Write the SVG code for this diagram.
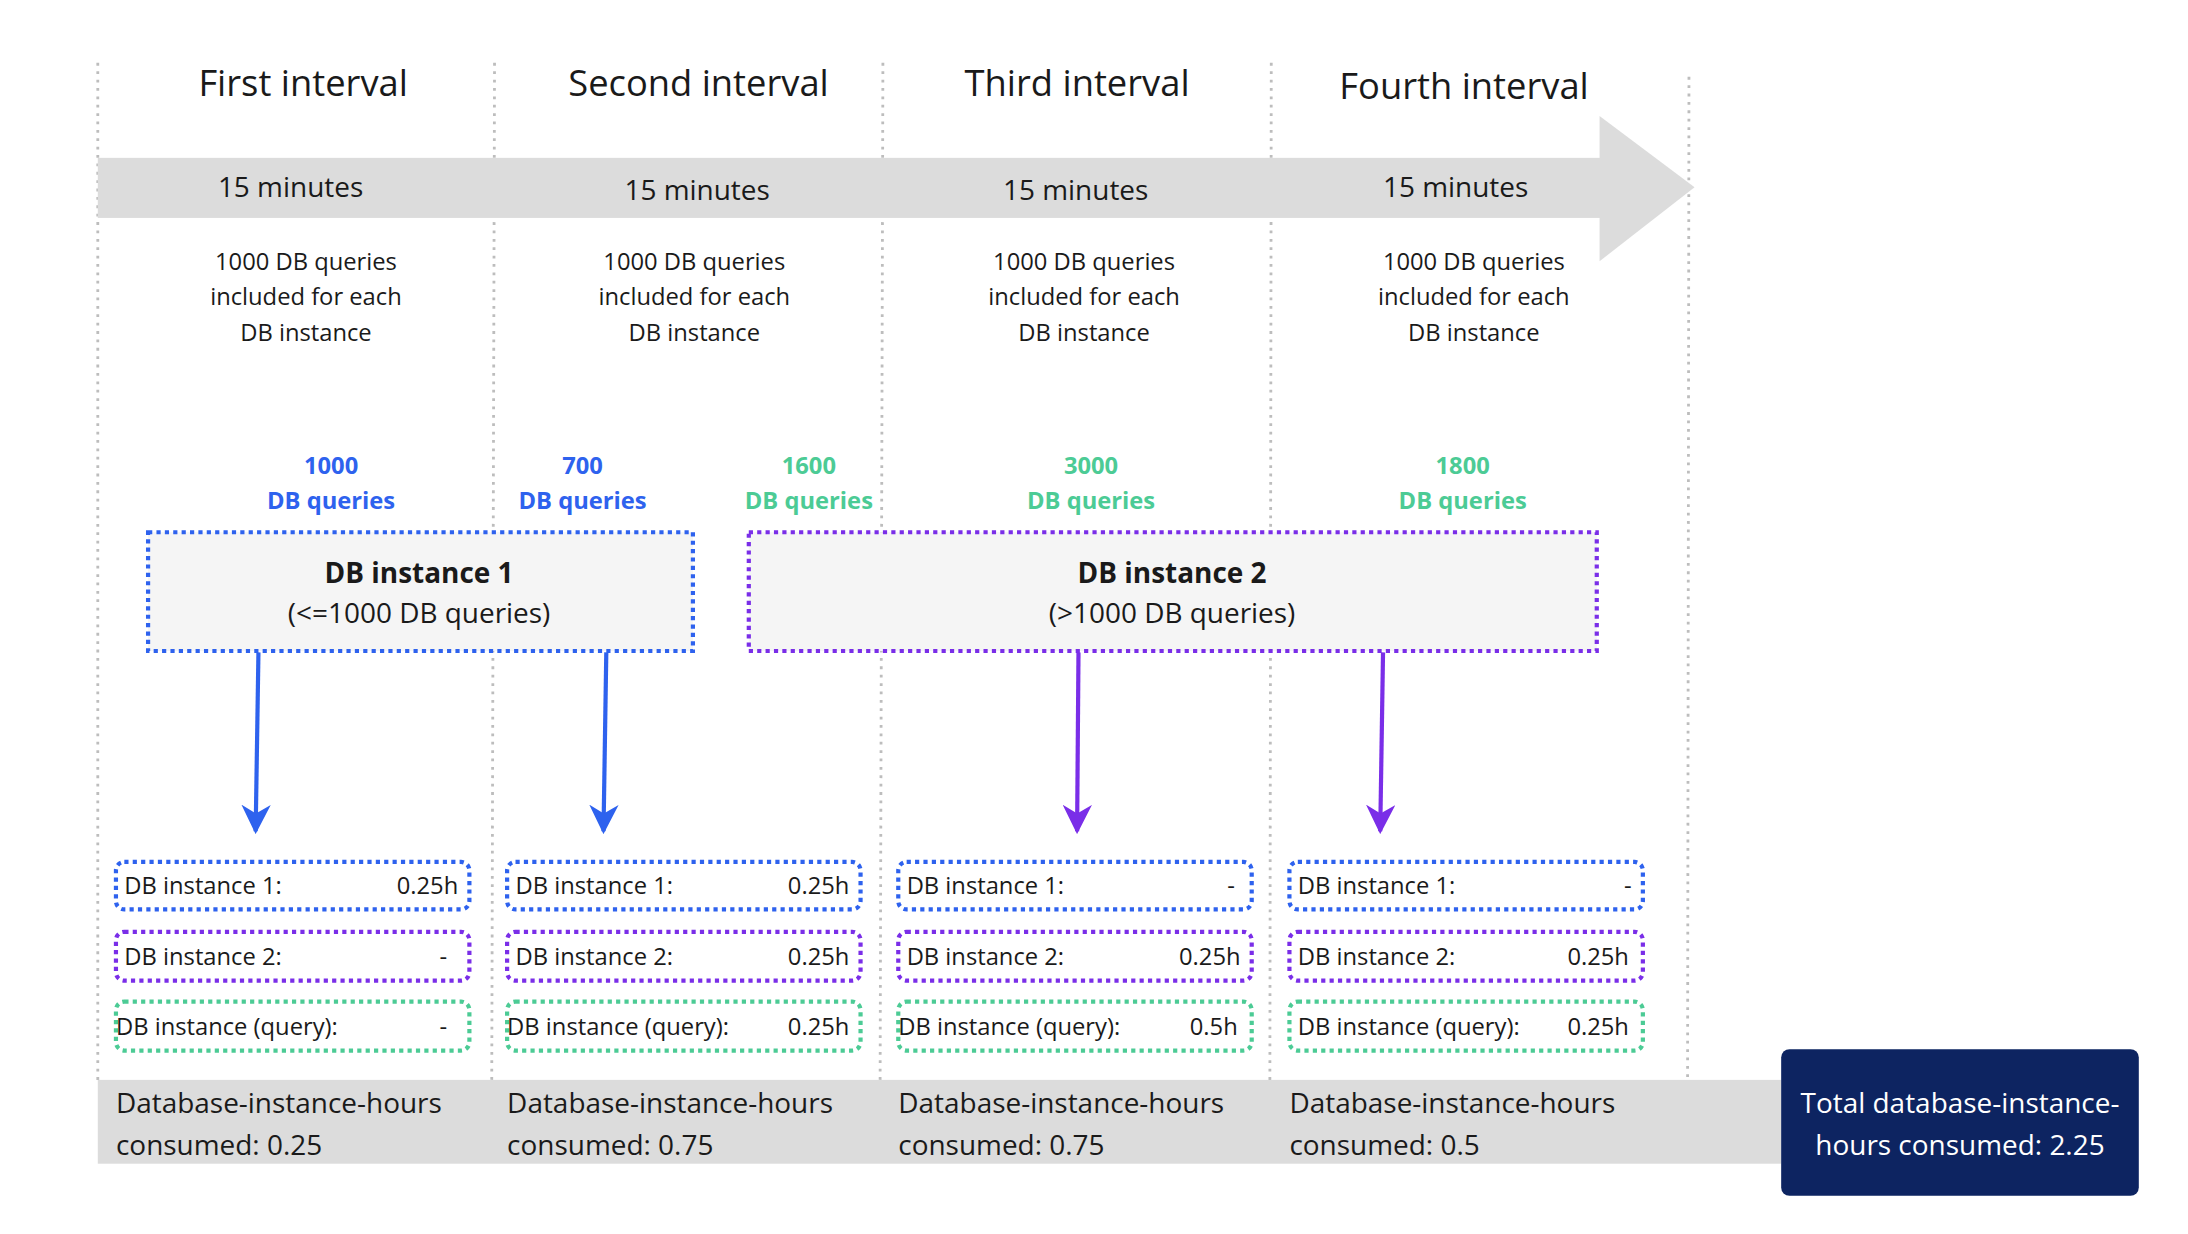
<svg xmlns="http://www.w3.org/2000/svg" width="2188" height="1234" viewBox="0 0 2188 1234">
<style>
text{font-family:"Open Sans","Noto Sans",sans-serif;fill:#1a1a1a}
.t{font-size:26px;text-anchor:middle}
.m{font-size:20px;text-anchor:middle}
.s{font-size:17px;text-anchor:middle}
.q{font-size:17px;font-weight:bold;text-anchor:middle}
.b{fill:#2e62ee}.g{fill:#4ccb95}
.sep{stroke:#bdbdbd;stroke-width:2;stroke-dasharray:2 4}
.bx{fill:#f5f5f5;stroke-width:3;stroke-dasharray:3 3}
.sb{fill:#fff;stroke-width:3;stroke-dasharray:3 3}
.blue{stroke:#2e62ee}.pur{stroke:#7a2ee8}.grn{stroke:#4ccb95}
.r{font-size:17px}.re{font-size:17px;text-anchor:end}
.l{font-size:20px}
</style>
<defs>
<marker id="ab" viewBox="0 0 10 10" refX="9" refY="5" markerWidth="7" markerHeight="7" orient="auto"><path d="M0,0L10,5L0,10L3,5z" fill="#2e62ee"/></marker>
<marker id="ap" viewBox="0 0 10 10" refX="9" refY="5" markerWidth="7" markerHeight="7" orient="auto"><path d="M0,0L10,5L0,10L3,5z" fill="#7a2ee8"/></marker>
</defs>
<g transform="scale(1.397)">
<g id="grid">
<line class="sep" x1="70" y1="45" x2="70" y2="775"/>
<line class="sep" x1="354" y1="45" x2="352" y2="775"/>
<line class="sep" x1="632" y1="45" x2="630" y2="775"/>
<line class="sep" x1="910" y1="45" x2="909" y2="775"/>
<line class="sep" x1="1209" y1="55" x2="1208" y2="775"/>
</g>
<g id="timeline">
<rect x="70" y="113" width="1076" height="43" fill="#dcdcdc"/>
<polygon points="1145,83 1213,134 1145,187" fill="#dcdcdc"/>
<text class="t" x="217" y="69">First interval</text>
<text class="t" x="500" y="69">Second interval</text>
<text class="t" x="771" y="69">Third interval</text>
<text class="t" x="1048" y="71">Fourth interval</text>
<text class="m" x="208" y="141">15 minutes</text>
<text class="m" x="499" y="143">15 minutes</text>
<text class="m" x="770" y="143">15 minutes</text>
<text class="m" x="1042" y="141">15 minutes</text>
</g>
<g id="info">
<text class="s" x="219" y="193">1000 DB queries</text><text class="s" x="219" y="218">included for each</text><text class="s" x="219" y="244">DB instance</text>
<text class="s" x="497" y="193">1000 DB queries</text><text class="s" x="497" y="218">included for each</text><text class="s" x="497" y="244">DB instance</text>
<text class="s" x="776" y="193">1000 DB queries</text><text class="s" x="776" y="218">included for each</text><text class="s" x="776" y="244">DB instance</text>
<text class="s" x="1055" y="193">1000 DB queries</text><text class="s" x="1055" y="218">included for each</text><text class="s" x="1055" y="244">DB instance</text>
</g>
<g id="queries">
<text class="q b" x="237" y="339">1000</text><text class="q b" x="237" y="364">DB queries</text>
<text class="q b" x="417" y="339">700</text><text class="q b" x="417" y="364">DB queries</text>
<text class="q g" x="579" y="339">1600</text><text class="q g" x="579" y="364">DB queries</text>
<text class="q g" x="781" y="339">3000</text><text class="q g" x="781" y="364">DB queries</text>
<text class="q g" x="1047" y="339">1800</text><text class="q g" x="1047" y="364">DB queries</text>
</g>
<g id="db1">
<rect class="bx blue" x="106" y="381" width="390" height="85"/>
<text x="300" y="417" style="font-size:20px;font-weight:bold;text-anchor:middle">DB instance 1</text>
<text class="m" x="300" y="446">(&lt;=1000 DB queries)</text>
</g>
<g id="db2">
<rect class="bx pur" x="536" y="381" width="607" height="85"/>
<text x="839" y="417" style="font-size:20px;font-weight:bold;text-anchor:middle">DB instance 2</text>
<text class="m" x="839" y="446">(&gt;1000 DB queries)</text>
</g>
<g id="connectors" stroke-width="3" fill="none">
<line x1="185" y1="467" x2="183" y2="595" stroke="#2e62ee" marker-end="url(#ab)"/>
<line x1="434" y1="467" x2="432" y2="595" stroke="#2e62ee" marker-end="url(#ab)"/>
<line x1="772" y1="467" x2="771" y2="595" stroke="#7a2ee8" marker-end="url(#ap)"/>
<line x1="990" y1="467" x2="988" y2="595" stroke="#7a2ee8" marker-end="url(#ap)"/>
</g>
<g id="col1">
<rect class="sb blue" x="83" y="617" width="253" height="34" rx="6"/><text class="r" x="89" y="640">DB instance 1:</text><text class="re" x="328" y="640">0.25h</text>
<rect class="sb pur" x="83" y="667" width="253" height="35" rx="6"/><text class="r" x="89" y="691">DB instance 2:</text><text class="re" x="320" y="691">-</text>
<rect class="sb grn" x="83" y="717" width="253" height="35" rx="6"/><text class="r" x="83" y="741">DB instance (query):</text><text class="re" x="320" y="741">-</text>
</g>
<g id="col2">
<rect class="sb blue" x="363" y="617" width="253" height="34" rx="6"/><text class="r" x="369" y="640">DB instance 1:</text><text class="re" x="608" y="640">0.25h</text>
<rect class="sb pur" x="363" y="667" width="253" height="35" rx="6"/><text class="r" x="369" y="691">DB instance 2:</text><text class="re" x="608" y="691">0.25h</text>
<rect class="sb grn" x="363" y="717" width="253" height="35" rx="6"/><text class="r" x="363" y="741">DB instance (query):</text><text class="re" x="608" y="741">0.25h</text>
</g>
<g id="col3">
<rect class="sb blue" x="643" y="617" width="253" height="34" rx="6"/><text class="r" x="649" y="640">DB instance 1:</text><text class="re" x="884" y="640">-</text>
<rect class="sb pur" x="643" y="667" width="253" height="35" rx="6"/><text class="r" x="649" y="691">DB instance 2:</text><text class="re" x="888" y="691">0.25h</text>
<rect class="sb grn" x="643" y="717" width="253" height="35" rx="6"/><text class="r" x="643" y="741">DB instance (query):</text><text class="re" x="886" y="741">0.5h</text>
</g>
<g id="col4">
<rect class="sb blue" x="923" y="617" width="253" height="34" rx="6"/><text class="r" x="929" y="640">DB instance 1:</text><text class="re" x="1168" y="640">-</text>
<rect class="sb pur" x="923" y="667" width="253" height="35" rx="6"/><text class="r" x="929" y="691">DB instance 2:</text><text class="re" x="1166" y="691">0.25h</text>
<rect class="sb grn" x="923" y="717" width="253" height="35" rx="6"/><text class="r" x="929" y="741">DB instance (query):</text><text class="re" x="1166" y="741">0.25h</text>
</g>
<g id="totals">
<rect x="70" y="773" width="1205" height="60" fill="#dcdcdc"/>
<text class="l" x="83" y="797">Database-instance-hours</text><text class="l" x="83" y="827">consumed: 0.25</text>
<text class="l" x="363" y="797">Database-instance-hours</text><text class="l" x="363" y="827">consumed: 0.75</text>
<text class="l" x="643" y="797">Database-instance-hours</text><text class="l" x="643" y="827">consumed: 0.75</text>
<text class="l" x="923" y="797">Database-instance-hours</text><text class="l" x="923" y="827">consumed: 0.5</text>
</g>
<g id="total">
<rect x="1275" y="751" width="256" height="105" rx="6" fill="#0d2461"/>
<text class="m" x="1403" y="797" style="fill:#fff">Total database-instance-</text>
<text class="m" x="1403" y="827" style="fill:#fff">hours consumed: 2.25</text>
</g>
</g>
</svg>
